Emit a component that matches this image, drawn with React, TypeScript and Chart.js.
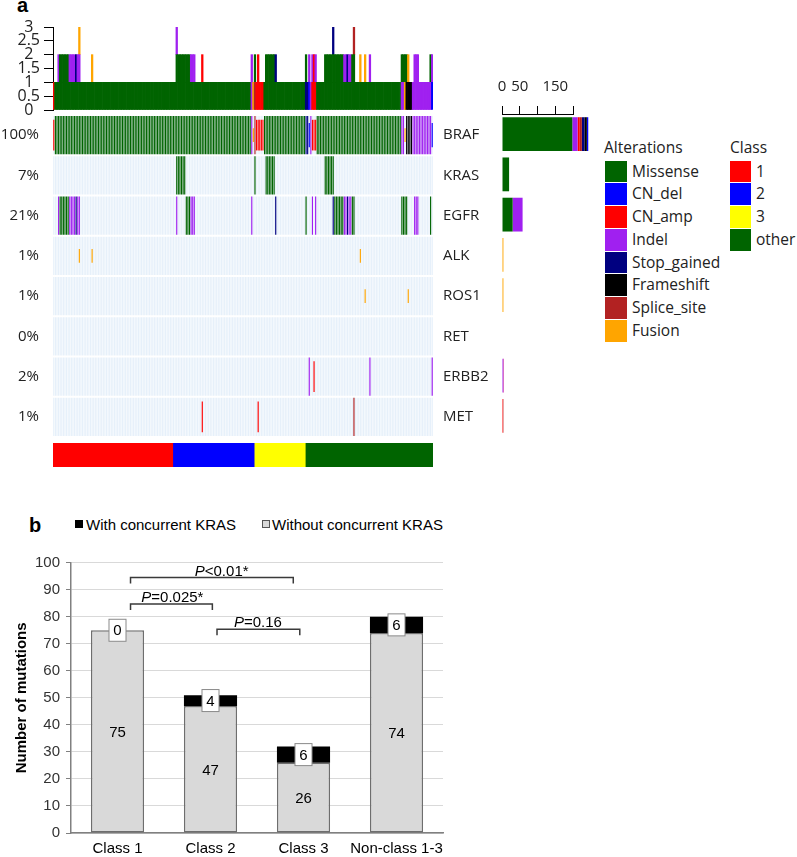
import React, { useEffect, useRef } from "react";
import { Chart, registerables } from "chart.js";

Chart.register(...registerables);

// ---------------- Panel a data ----------------
const sampleCount = 238;
const sampleIds = Array.from({ length: sampleCount }, (_, i) => `S${i + 1}`);

const classLabels = ["1", "2", "3", "other"];
const classSizes = [75, 51, 32, 80];
const classColors = ["#ff0000", "#0000ff", "#ffff00", "#006400"];

const genes = ["BRAF", "KRAS", "EGFR", "ALK", "ROS1", "RET", "ERBB2", "MET"];
const genePercents = ["100%", "7%", "21%", "1%", "1%", "0%", "2%", "1%"];

const alterationTypes = ["Missense", "CN_del", "CN_amp", "Indel", "Stop_gained", "Frameshift", "Splice_site", "Fusion"];
const alterationColors = ["#006400", "#0000ff", "#ff0000", "#a020f0", "#000080", "#000000", "#b22222", "#ffa500"];

// [first sample, last sample, alteration]
const brafSegments = [
  [0, 0, "CN_amp"],
  [1, 123, "Missense"],
  [124, 124, "Indel"],
  [125, 125, "Fusion"],
  [126, 126, "Splice_site"],
  [127, 131, "CN_amp"],
  [132, 157, "Missense"],
  [158, 159, "Stop_gained"],
  [160, 160, "CN_del"],
  [161, 161, "Indel"],
  [162, 164, "CN_amp"],
  [165, 217, "Missense"],
  [218, 219, "Indel"],
  [220, 220, "Fusion"],
  [221, 224, "Frameshift"],
  [225, 236, "Indel"],
  [237, 237, "CN_del"],
];
const krasSegments = [
  [77, 82, "Missense"],
  [126, 126, "Missense"],
  [133, 138, "Missense"],
  [170, 175, "Missense"],
];
const egfrSegments = [
  [3, 3, "Indel"],
  [4, 9, "Missense"],
  [10, 13, "Indel"],
  [14, 14, "Stop_gained"],
  [15, 16, "Indel"],
  [77, 77, "Indel"],
  [83, 85, "Missense"],
  [86, 88, "Indel"],
  [124, 124, "Indel"],
  [139, 139, "Stop_gained"],
  [158, 158, "Missense"],
  [162, 162, "Indel"],
  [164, 164, "Indel"],
  [175, 175, "Stop_gained"],
  [176, 181, "Missense"],
  [182, 183, "Indel"],
  [184, 184, "Stop_gained"],
  [185, 186, "Indel"],
  [187, 188, "Missense"],
  [218, 221, "Missense"],
  [226, 228, "Indel"],
  [236, 236, "Missense"],
];
const alkSegments = [
  [16, 16, "Fusion"],
  [24, 24, "Fusion"],
  [192, 192, "Fusion"],
];
const ros1Segments = [
  [195, 195, "Fusion"],
  [222, 222, "Fusion"],
];
const retSegments: any[] = [];
const erbb2Segments = [
  [160, 160, "Indel"],
  [163, 163, "CN_amp"],
  [198, 198, "Indel"],
  [237, 237, "Indel"],
];
const metSegments = [
  [93, 93, "CN_amp"],
  [128, 128, "CN_amp"],
  [188, 188, "Splice_site"],
];
const geneSegments = [brafSegments, krasSegments, egfrSegments, alkSegments, ros1Segments, retSegments, erbb2Segments, metSegments];

// right-hand bar chart (alteration counts per gene)
const rightMissense = [198, 20, 30, 0, 0, 0, 0, 0];
const rightIndel = [15, 0, 28, 0, 0, 0, 4, 0];
const rightCNamp = [6, 0, 0, 0, 0, 0, 1, 3];
const rightSplice = [6, 0, 0, 0, 0, 0, 0, 1];
const rightStop = [7, 0, 0, 0, 0, 0, 0, 0];
const rightFrameshift = [7, 0, 0, 0, 0, 0, 0, 0];
const rightCNdel = [4, 0, 0, 0, 0, 0, 0, 0];
const rightFusion = [0, 0, 0, 4, 4, 0, 0, 0];
const rightTicks = [0, 50, 150];

// ---------------- Panel b data ----------------
const bCategories = ["Class 1", "Class 2", "Class 3", "Non-class 1-3"];
const withoutKras = [75, 47, 26, 74];
const withKras = [0, 4, 6, 6];
const pTexts = ["<0.01*", "=0.025*", "=0.16"];
const pFrom = [0.14, 0.14, 1.07];
const pTo = [1.89, 1.02, 1.96];
const pLevel = [94.5, 84.7, 75.4];
const pTextAt = [1.12, 0.59, 1.51];

// ---------------- helpers ----------------
const SANS = "'Open Sans', 'Noto Sans', sans-serif";
const ARIAL = "'Liberation Sans', Arial, sans-serif";

const colorOf = (t: string) => alterationColors[alterationTypes.indexOf(t)];

function expand(segs: any[]): (string | null)[] {
  const arr: (string | null)[] = sampleIds.map(() => null);
  for (const [a, b, t] of segs) for (let i = a; i <= b; i++) arr[i] = t;
  return arr;
}
const geneAlterations = geneSegments.map(expand);

function cellRange(t: string): [number, number] {
  if (t === "Fusion") return [0.33, 0.67];
  if (t === "CN_amp") return [0.12, 0.88];
  if (t === "CN_del") return [0.2, 0.8];
  return [0.025, 0.975];
}

function ChartCanvas({ left, top, width, height, make }: any) {
  const ref = useRef<HTMLCanvasElement>(null);
  useEffect(() => {
    const chart = new Chart(ref.current as HTMLCanvasElement, make());
    return () => chart.destroy();
  }, []);
  return (
    <canvas
      ref={ref}
      width={width}
      height={height}
      style={{ position: "absolute", left, top, width, height }}
    />
  );
}

const baseOpts = {
  animation: false,
  responsive: false,
  devicePixelRatio: 1,
  events: [],
};

const noVPad = (w: number) => (s: any) => {
  s.width = w;
  s.paddingTop = 0;
  s.paddingBottom = 0;
};

// ---------------- top count chart ----------------
function makeTopConfig() {
  const sampleAlts = sampleIds.map((_, i) =>
    geneAlterations.map((a) => a[i]).filter((t) => t !== null) as string[]
  );
  const maxLevel = Math.max(...sampleAlts.map((s) => s.length));
  const datasets = [];
  for (let k = 0; k < maxLevel; k++) {
    datasets.push({
      label: `level${k + 1}`,
      data: sampleAlts.map((s) => (s.length > k ? 1 : null)),
      backgroundColor: sampleAlts.map((s) => (s.length > k ? colorOf(s[k]) : "rgba(0,0,0,0)")),
      borderWidth: 0,
      barPercentage: 1,
      categoryPercentage: 1,
      inflateAmount: 0.35,
      stack: "count",
    });
  }
  return {
    type: "bar",
    data: { labels: sampleIds, datasets },
    options: {
      ...baseOpts,
      layout: { padding: { top: 13, bottom: 5, right: 7, left: 0 } },
      plugins: { legend: { display: false }, tooltip: { enabled: false } },
      scales: {
        x: { display: false, stacked: true },
        y: {
          stacked: true,
          min: 0,
          max: 3,
          afterFit: noVPad(53),
          ticks: {
            stepSize: 0.5,
            autoSkip: false,
            font: { family: SANS, size: 16 },
            color: "#222",
            padding: 4,
            crossAlign: "center",
            callback: (v: any) => String(v),
          },
          grid: { drawOnChartArea: false, tickLength: 9, color: "#000", tickColor: "#000" },
          border: { color: "#000", width: 1 },
        },
      },
    },
  };
}

// ---------------- oncoprint ----------------
function makeOncoConfig() {
  const nRows = genes.length;
  const rowCenters = genes.map((_, g) => g + 0.5);
  const cellOpts = {
    grouped: false,
    categoryPercentage: 1,
    barPercentage: 0.72,
    borderWidth: 0,
    inflateAmount: 0,
  };
  const bgSets = genes.map((gene, g) => {
    const r = nRows - 1 - g;
    return {
      label: `${gene} background`,
      data: sampleIds.map(() => [r + 0.025, r + 0.975]),
      backgroundColor: "#e6f0fa",
      order: 2,
      ...cellOpts,
    };
  });
  const altSets = genes.map((gene, g) => {
    const r = nRows - 1 - g;
    const alts = geneAlterations[g];
    return {
      label: gene,
      data: alts.map((t) => {
        if (!t) return null;
        const [lo, hi] = cellRange(t);
        return [r + lo, r + hi];
      }),
      backgroundColor: alts.map((t) => (t ? colorOf(t) : "rgba(0,0,0,0)")),
      order: 1,
      ...cellOpts,
    };
  });
  const axisCommon = {
    min: 0,
    max: nRows,
    afterBuildTicks: (s: any) => {
      s.ticks = rowCenters.map((v) => ({ value: v }));
    },
    grid: { display: false, drawTicks: false },
    border: { display: false },
  };
  return {
    type: "bar",
    data: { labels: sampleIds, datasets: [...altSets, ...bgSets] },
    options: {
      ...baseOpts,
      layout: { padding: { top: 10, bottom: 8, left: 0, right: 0 } },
      plugins: { legend: { display: false }, tooltip: { enabled: false } },
      scales: {
        x: { display: false },
        y: {
          ...axisCommon,
          position: "left",
          afterFit: noVPad(53),
          ticks: {
            padding: 14,
            autoSkip: false,
            font: { family: SANS, size: 15 },
            color: "#222",
            callback: (v: any) => genePercents[nRows - 1 - Math.floor(v)],
          },
        },
        y2: {
          ...axisCommon,
          position: "right",
          afterFit: noVPad(77),
          ticks: {
            padding: 10,
            autoSkip: false,
            font: { family: SANS, size: 15 },
            color: "#222",
            callback: (v: any) => genes[nRows - 1 - Math.floor(v)],
          },
        },
      },
    },
  };
}

// ---------------- class bar ----------------
function makeClassConfig() {
  return {
    type: "bar",
    data: {
      labels: ["Class"],
      datasets: classLabels.map((c, i) => ({
        label: c,
        data: [classSizes[i]],
        backgroundColor: classColors[i],
        borderWidth: 0,
        barPercentage: 1,
        categoryPercentage: 1,
      })),
    },
    options: {
      ...baseOpts,
      indexAxis: "y",
      layout: { padding: { left: 53, right: 7, top: 5, bottom: 5 } },
      plugins: { legend: { display: false }, tooltip: { enabled: false } },
      scales: {
        x: { display: false, stacked: true, min: 0, max: sampleCount },
        y: { display: false, stacked: true },
      },
    },
  };
}

// ---------------- right bar chart ----------------
function makeRightConfig() {
  const series = [
    ["Missense", rightMissense],
    ["Indel", rightIndel],
    ["CN_amp", rightCNamp],
    ["Splice_site", rightSplice],
    ["Stop_gained", rightStop],
    ["Frameshift", rightFrameshift],
    ["CN_del", rightCNdel],
    ["Fusion", rightFusion],
  ];
  return {
    type: "bar",
    data: {
      labels: genes,
      datasets: series.map(([name, vals]: any) => ({
        label: name,
        data: vals,
        backgroundColor: colorOf(name),
        borderWidth: 0,
        barPercentage: 0.84,
        categoryPercentage: 1,
        clip: false,
      })),
    },
    options: {
      ...baseOpts,
      indexAxis: "y",
      layout: { padding: { left: 12, right: 27, top: 0, bottom: 4 } },
      plugins: { legend: { display: false }, tooltip: { enabled: false } },
      scales: {
        x: {
          position: "top",
          stacked: true,
          min: 0,
          max: 200,
          afterFit: (s: any) => {
            s.height = 54;
            s.paddingLeft = 0;
            s.paddingRight = 0;
          },
          ticks: {
            stepSize: 50,
            padding: 10,
            maxRotation: 0,
            autoSkip: false,
            font: { family: SANS, size: 15 },
            color: "#222",
            callback: (v: any) => (rightTicks.includes(v) ? String(v) : ""),
          },
          grid: { drawOnChartArea: false, tickLength: 8, color: "#000", tickColor: "#000" },
          border: { color: "#000", width: 1 },
        },
        y: { display: false, stacked: true },
      },
    },
  };
}

// ---------------- panel b ----------------
const panelBPlugin = {
  id: "panelBAnnotations",
  afterDatasetsDraw(chart: any) {
    const { ctx } = chart;
    const x = chart.scales.x;
    const y = chart.scales.y;
    ctx.save();
    ctx.font = `15px ${ARIAL}`;
    ctx.textAlign = "center";
    ctx.textBaseline = "middle";
    withoutKras.forEach((v, i) => {
      ctx.fillStyle = "#000";
      ctx.fillText(String(v), x.getPixelForValue(i), y.getPixelForValue(v / 2) + 1);
    });
    withKras.forEach((v, i) => {
      const cx = x.getPixelForValue(i);
      const cy = y.getPixelForValue(withoutKras[i] + v / 2);
      ctx.fillStyle = "#fff";
      ctx.strokeStyle = "#8a8a8a";
      ctx.lineWidth = 1;
      ctx.fillRect(cx - 8.5, cy - 11, 17, 22);
      ctx.strokeRect(cx - 8.5, cy - 11, 17, 22);
      ctx.fillStyle = "#000";
      ctx.fillText(String(v), cx, cy + 1);
    });
    // significance brackets
    pTexts.forEach((txt, i) => {
      const x1 = x.getPixelForValue(pFrom[i]);
      const x2 = x.getPixelForValue(pTo[i]);
      const ly = y.getPixelForValue(pLevel[i]);
      ctx.strokeStyle = "#3a3a3a";
      ctx.lineWidth = 1.5;
      ctx.beginPath();
      ctx.moveTo(x1, ly + 6);
      ctx.lineTo(x1, ly);
      ctx.lineTo(x2, ly);
      ctx.lineTo(x2, ly + 6);
      ctx.stroke();
      const italic = `italic 15px ${ARIAL}`;
      const normal = `15px ${ARIAL}`;
      ctx.font = italic;
      const wP = ctx.measureText("P").width;
      ctx.font = normal;
      const wR = ctx.measureText(txt).width;
      const cx = x.getPixelForValue(pTextAt[i]);
      const sx = cx - (wP + wR) / 2;
      ctx.textAlign = "left";
      ctx.textBaseline = "alphabetic";
      ctx.fillStyle = "#000";
      ctx.font = italic;
      ctx.fillText("P", sx, ly - 2);
      ctx.font = normal;
      ctx.fillText(txt, sx + wP, ly - 2);
      ctx.textAlign = "center";
      ctx.textBaseline = "middle";
    });
    ctx.restore();
  },
};

function makePanelBConfig() {
  return {
    type: "bar",
    data: {
      labels: bCategories,
      datasets: [
        {
          label: "Without concurrent KRAS",
          data: withoutKras,
          backgroundColor: "#d9d9d9",
          borderColor: "#6e6e6e",
          borderWidth: 1.5,
          borderSkipped: false,
          barPercentage: 0.571,
          categoryPercentage: 1,
        },
        {
          label: "With concurrent KRAS",
          data: withKras,
          backgroundColor: "#000",
          borderWidth: 0,
          barPercentage: 0.571,
          categoryPercentage: 1,
        },
      ],
    },
    options: {
      ...baseOpts,
      layout: { padding: { top: 22.7, right: 17, left: 0, bottom: 0 } },
      plugins: { legend: { display: false }, tooltip: { enabled: false } },
      scales: {
        x: {
          stacked: true,
          afterFit: (s: any) => {
            s.height = 24;
          },
          ticks: { font: { family: ARIAL, size: 15 }, color: "#000", padding: 7, maxRotation: 0, autoSkip: false },
          grid: { display: false, drawTicks: false },
          border: { color: "#808080", width: 1.5 },
        },
        y: {
          stacked: true,
          min: 0,
          max: 100,
          afterFit: (s: any) => {
            s.width = 71;
          },
          ticks: { stepSize: 10, font: { family: ARIAL, size: 15 }, color: "#333", padding: 6, autoSkip: false },
          grid: { color: "#d9d9d9", lineWidth: 1, tickLength: 5, tickColor: "#808080" },
          border: { color: "#808080", width: 1.5 },
          title: {
            display: true,
            text: "Number of mutations",
            font: { family: ARIAL, size: 15, weight: "bold" },
            color: "#000",
            padding: { top: 13, bottom: 0 },
          },
        },
      },
    },
    plugins: [panelBPlugin],
  };
}

// ---------------- legends (HTML) ----------------
const legendFont: any = { fontFamily: SANS, fontSize: 15.5, lineHeight: "15.5px", color: "#222", position: "absolute", whiteSpace: "nowrap" };

function AlterationLegend() {
  const itemH = 22.75;
  return (
    <>
      <div style={{ ...legendFont, left: 604, top: 139.5 }}>Alterations</div>
      {alterationTypes.map((t, i) => (
        <React.Fragment key={t}>
          <div
            style={{
              position: "absolute",
              left: 605,
              top: 160.7 + i * itemH,
              width: 22,
              height: itemH - 1,
              background: alterationColors[i],
            }}
          />
          <div style={{ ...legendFont, left: 632, top: 163.5 + i * itemH }}>{t}</div>
        </React.Fragment>
      ))}
      <div style={{ ...legendFont, left: 730, top: 139.5 }}>Class</div>
      {classLabels.map((c, i) => (
        <React.Fragment key={c}>
          <div
            style={{
              position: "absolute",
              left: 730,
              top: 160.7 + i * itemH,
              width: 21,
              height: itemH - 1,
              background: classColors[i],
            }}
          />
          <div style={{ ...legendFont, left: 756, top: 163.5 + i * itemH }}>{c}</div>
        </React.Fragment>
      ))}
    </>
  );
}

function PanelBLegend() {
  const txt: any = { position: "absolute", fontFamily: ARIAL, fontSize: 15, lineHeight: "15px", color: "#000", whiteSpace: "nowrap" };
  return (
    <>
      <div style={{ position: "absolute", left: 75, top: 520, width: 8, height: 8, background: "#000" }} />
      <div style={{ ...txt, left: 86, top: 517.3 }}>With concurrent KRAS</div>
      <div
        style={{
          position: "absolute",
          left: 262,
          top: 520,
          width: 8,
          height: 8,
          boxSizing: "border-box",
          background: "#d9d9d9",
          border: "1px solid #555",
        }}
      />
      <div style={{ ...txt, left: 272, top: 517.3 }}>Without concurrent KRAS</div>
    </>
  );
}

export default function App() {
  const panelLabel: any = { position: "absolute", fontFamily: ARIAL, fontWeight: "bold", fontSize: 20, lineHeight: "20px", color: "#000" };
  return (
    <div style={{ position: "absolute", left: 0, top: 0, width: 797, height: 857, overflow: "hidden", background: "#fff" }}>
      <div style={{ ...panelLabel, left: 17, top: -5 }}>a</div>
      <ChartCanvas left={0} top={14} width={440} height={101} make={makeTopConfig} />
      <ChartCanvas left={0} top={105} width={510} height={340} make={makeOncoConfig} />
      <ChartCanvas left={0} top={438} width={440} height={34} make={makeClassConfig} />
      <ChartCanvas left={490} top={60} width={110} height={380} make={makeRightConfig} />
      <AlterationLegend />
      <div style={{ ...panelLabel, left: 29, top: 514.8 }}>b</div>
      <PanelBLegend />
      <ChartCanvas left={0} top={540} width={460} height={317} make={makePanelBConfig} />
    </div>
  );
}
